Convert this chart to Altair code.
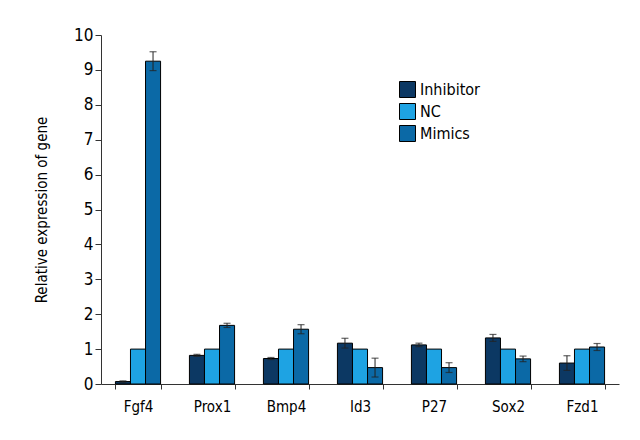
import altair as alt
import pandas as pd

genes = ["Fgf4", "Prox1", "Bmp4", "Id3", "P27", "Sox2", "Fzd1"]
groups = ["Inhibitor", "NC", "Mimics"]
inhibitor = [0.07, 0.82, 0.73, 1.17, 1.12, 1.32, 0.60]
inhibitor_err = [0.02, 0.03, 0.03, 0.14, 0.05, 0.10, 0.21]
nc = [1.0, 1.0, 1.0, 1.0, 1.0, 1.0, 1.0]
nc_err = [0, 0, 0, 0, 0, 0, 0]
mimics = [9.25, 1.68, 1.57, 0.47, 0.47, 0.72, 1.06]
mimics_err = [0.27, 0.06, 0.13, 0.27, 0.14, 0.08, 0.10]
colors = ["#0c3863", "#1ea3e3", "#0b69a6"]
y_ticks = [0, 1, 2, 3, 4, 5, 6, 7, 8, 9, 10]

rows = []
for vals, errs, g in [(inhibitor, inhibitor_err, "Inhibitor"), (nc, nc_err, "NC"), (mimics, mimics_err, "Mimics")]:
    for gene, v, e in zip(genes, vals, errs):
        rows.append({"gene": gene, "group": g, "value": v, "lo": v - e, "hi": v + e, "err": e})
df = pd.DataFrame(rows)

FONT = "DejaVu Sans Condensed, Roboto, sans-serif"
TITLE = "Relative expression of gene"

x = alt.X("gene:N", sort=genes, title=None,
          scale=alt.Scale(paddingInner=0.39, paddingOuter=0.195),
          axis=alt.Axis(labelAngle=0, labelFontSize=15, labelFont=FONT, labelColor="black",
                        tickBand="extent", tickSize=5, tickColor="#333", domainColor="#333",
                        labelPadding=10))
xo = alt.XOffset("group:N", sort=groups, scale=alt.Scale(paddingInner=0, paddingOuter=0))
yscale = alt.Scale(domain=[0, 10], nice=False)
yaxis = alt.Axis(values=y_ticks, grid=False, labelOverlap=False, labelFontSize=17,
                 labelFont=FONT, labelColor="black",
                 titleFont=FONT, titleFontSize=15, titleFontWeight="normal", titleColor="black",
                 tickSize=6, tickColor="#333", domainColor="#333", titlePadding=24)


def Y(field):
    return alt.Y(field, scale=yscale, axis=yaxis, title=TITLE)


bars = alt.Chart(df).mark_bar(stroke="black", strokeWidth=1).encode(
    x=x, xOffset=xo,
    y=Y("value:Q"),
    color=alt.Color("group:N", sort=groups, scale=alt.Scale(domain=groups, range=colors),
                    legend=alt.Legend(title=None, orient="none", legendX=298, legendY=46,
                                      symbolType="square", symbolSize=256, symbolStrokeColor="black",
                                      symbolStrokeWidth=1, labelFont=FONT, labelFontSize=16,
                                      labelColor="black", rowPadding=1, labelOffset=4)),
)

edf = df[df["err"] > 0]
rules = alt.Chart(edf).mark_rule(color="#222", strokeWidth=1).encode(
    x=x, xOffset=xo, y=Y("lo:Q"), y2="hi:Q")
caps_hi = alt.Chart(edf).mark_tick(color="#222", size=7, thickness=1.2, orient="horizontal").encode(
    x=x, xOffset=xo, y=Y("hi:Q"))
caps_lo = alt.Chart(edf).mark_tick(color="#222", size=7, thickness=1.2, orient="horizontal").encode(
    x=x, xOffset=xo, y=Y("lo:Q"))

chart = alt.layer(bars, rules, caps_hi, caps_lo).properties(
    width=518, height=349, background="white",
    padding={"left": 26, "top": 18, "right": 5, "bottom": 5}
).configure_view(stroke=None)

chart.save("out.html", embed_options={"renderer": "svg", "actions": False})
